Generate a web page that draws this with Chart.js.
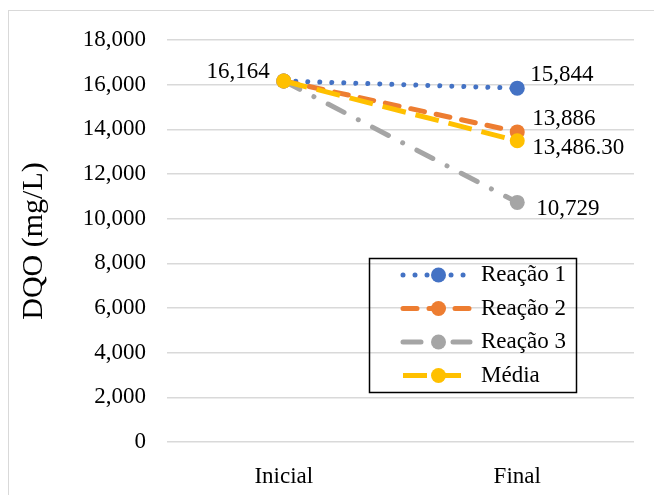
<!DOCTYPE html>
<html>
<head>
<meta charset="utf-8">
<script src="https://cdn.jsdelivr.net/npm/chart.js@4.4.1/dist/chart.umd.min.js"></script>
<style>
  html, body { margin: 0; padding: 0; background: #fff; overflow: hidden; }
  #wrap { position: relative; width: 654px; height: 495px; }
</style>
</head>
<body>
<div id="wrap"><canvas id="dqoChart"></canvas></div>
<script>
// Data
const categories = ["Inicial", "Final"];
const reacao1 = [16164, 15844];
const reacao2 = [16164, 13886];
const reacao3 = [16164, 10729];
const media = [16164, 13486.30];
const seriesNames = ["Reação 1", "Reação 2", "Reação 3", "Média"];
const yMin = 0, yMax = 18000, yStep = 2000;
const yTitle = "DQO (mg/L)";

const FONT = "'Liberation Serif', 'Times New Roman', serif";

// Outer frame of the chart
const frame = {
    id: "frame",
    beforeDraw(chart) {
        const ctx = chart.ctx;
        ctx.save();
        ctx.fillStyle = "#fff";
        ctx.fillRect(0, 0, chart.width, chart.height);
        ctx.strokeStyle = "#D9D9D9";
        ctx.lineWidth = 1;
        ctx.strokeRect(8.5, 10.5, 700, 600);
        ctx.restore();
    }
};

// Data labels next to the points
const valueLabels = {
    id: "valueLabels",
    afterDatasetsDraw(chart, args, opts) {
        const ctx = chart.ctx;
        ctx.save();
        ctx.font = `23px ${FONT}`;
        ctx.fillStyle = "#000";
        ctx.textBaseline = "middle";
        opts.items.forEach(item => {
            const pt = chart.getDatasetMeta(item.dataset).data[item.index];
            const v = chart.data.datasets[item.dataset].data[item.index];
            const txt = v.toLocaleString("en-US", {
                minimumFractionDigits: item.decimals,
                maximumFractionDigits: item.decimals
            });
            ctx.textAlign = item.dx < 0 ? "right" : "left";
            ctx.fillText(txt, pt.x + item.dx, pt.y + item.dy);
        });
        ctx.restore();
    }
};

// Boxed legend inside the plot area
const boxLegend = {
    id: "boxLegend",
    afterDraw(chart, args, opts) {
        const ctx = chart.ctx;
        const b = opts.box;
        ctx.save();
        ctx.strokeStyle = "#000";
        ctx.lineWidth = 1.5;
        ctx.strokeRect(b.x, b.y, b.w, b.h);
        chart.data.datasets.forEach((ds, i) => {
            const y = opts.firstRow + i * opts.rowGap;
            ctx.save();
            ctx.strokeStyle = ds.borderColor;
            ctx.lineWidth = ds.borderWidth;
            ctx.lineCap = ds.borderCapStyle || "butt";
            ctx.setLineDash(ds.borderDash || []);
            ctx.beginPath();
            ctx.moveTo(opts.lineX0, y);
            ctx.lineTo(opts.lineX1, y);
            ctx.stroke();
            ctx.setLineDash([]);
            ctx.fillStyle = ds.pointBackgroundColor;
            ctx.beginPath();
            ctx.arc((opts.lineX0 + opts.lineX1) / 2 + 2, y, ds.pointRadius, 0, Math.PI * 2);
            ctx.fill();
            ctx.restore();
            ctx.fillStyle = "#000";
            ctx.font = `23px ${FONT}`;
            ctx.textBaseline = "middle";
            ctx.textAlign = "left";
            ctx.fillText(ds.label, opts.textX, y);
        });
        ctx.restore();
    }
};

function series(label, data, color, dash, cap, order) {
    return {
        label: label,
        data: data,
        borderColor: color,
        backgroundColor: color,
        pointBackgroundColor: color,
        pointBorderWidth: 0,
        pointRadius: 7.5,
        borderWidth: 5,
        borderDash: dash,
        borderCapStyle: cap,
        tension: 0,
        order: order
    };
}

const ctx = document.getElementById("dqoChart").getContext("2d");
new Chart(ctx, {
    type: "line",
    data: {
        labels: categories,
        datasets: [
            series(seriesNames[0], reacao1, "#4472C4", [0.01, 12], "round", 4),
            series(seriesNames[1], reacao2, "#ED7D31", [14, 12], "round", 3),
            series(seriesNames[2], reacao3, "#A5A5A5", [18, 16, 0.01, 16], "round", 2),
            series(seriesNames[3], media, "#FFC000", [24, 10], "butt", 1)
        ]
    },
    options: {
        responsive: true,
        maintainAspectRatio: false,
        animation: false,
        layout: { padding: { top: 40, right: 20, left: 0, bottom: 0 } },
        plugins: {
            legend: { display: false },
            tooltip: { enabled: false },
            valueLabels: {
                items: [
                    { dataset: 0, index: 0, dx: -14, dy: -9, decimals: 0 },
                    { dataset: 0, index: 1, dx: 13, dy: -13, decimals: 0 },
                    { dataset: 1, index: 1, dx: 15, dy: -13, decimals: 0 },
                    { dataset: 2, index: 1, dx: 19, dy: 7, decimals: 0 },
                    { dataset: 3, index: 1, dx: 15, dy: 7, decimals: 2 }
                ]
            },
            boxLegend: {
                box: { x: 369.5, y: 258.5, w: 207, h: 134 },
                lineX0: 403, lineX1: 470, textX: 481,
                firstRow: 275, rowGap: 33.5
            }
        },
        scales: {
            x: {
                offset: true,
                grid: { display: false },
                border: { display: false },
                ticks: { color: "#000", font: { family: FONT, size: 23 }, padding: 13 },
                afterFit(scale) { scale.height = 53; }
            },
            y: {
                min: yMin,
                max: yMax,
                border: { display: false },
                grid: { color: "#D9D9D9", lineWidth: 1.5, drawTicks: false },
                ticks: {
                    stepSize: yStep,
                    color: "#000",
                    padding: 21,
                    font: { family: FONT, size: 23 },
                    callback: v => v.toLocaleString("en-US")
                },
                title: {
                    display: true,
                    text: yTitle,
                    color: "#000",
                    font: { family: FONT, size: 30, weight: "normal" },
                    padding: { top: 16, bottom: 0 }
                },
                afterFit(scale) { scale.width = 167; }
            }
        }
    },
    plugins: [frame, valueLabels, boxLegend]
});
</script>
</body>
</html>
